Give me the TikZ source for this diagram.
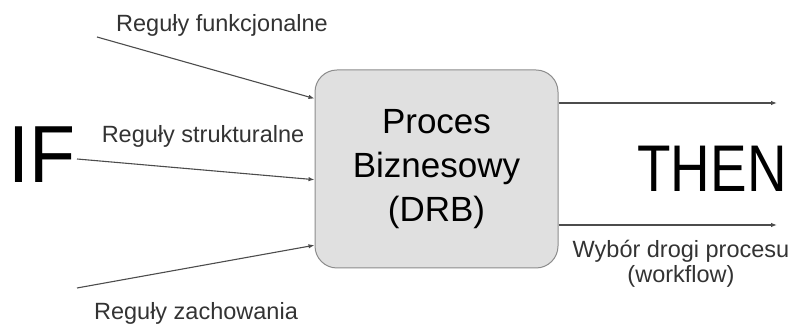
\documentclass[tikz,border=0pt]{standalone}
\usepackage{fontspec}
\setmainfont{Liberation Sans}
\usetikzlibrary{arrows.meta}
\begin{document}
\begin{tikzpicture}[x=1pt,y=1pt,
    arr/.style={-{Latex[length=6pt,width=4.5pt]},line width=1.1pt,draw=black!70},
    lbl/.style={anchor=base,text=black!80,font=\fontsize{23.5}{26}\selectfont},
    big/.style={anchor=base,text=black}]
    \useasboundingbox (0,0) rectangle (793,326);
    % Processus (boite grise arrondie)
    \node[draw=black!45,line width=1pt,fill=black!12,rounded corners=22pt,
          minimum width=243pt,minimum height=198pt,align=center,
          font=\fontsize{35}{44}\selectfont] (box) at (436.5,157)
          {Proces\\Biznesowy\\(DRB)};
    % IF / THEN
    \node[big,font=\fontsize{81}{90}\selectfont] (if) at (42,143) {\scalebox{0.93}[1]{IF}};
    \node[big,font=\fontsize{66}{72}\selectfont] (then) at (712,134) {\scalebox{0.83}[1]{THEN}};
    % Regles en entree
    \coordinate (i1) at (97,289);
    \coordinate (i2) at (77,167);
    \coordinate (i3) at (77,38);
    \draw[arr] (i1) -- (box.150);
    \draw[arr] (i2) -- (box.185);
    \draw[arr] (i3) -- (box.212);
    \node[lbl] (rf) at (222,294) {Reguły funkcjonalne};
    \node[lbl] (rs) at (203,183) {Reguły strukturalne};
    \node[lbl] (rz) at (196,6) {Reguły zachowania};
    % Sorties
    \coordinate (o1) at (777,223);
    \coordinate (o2) at (777,101);
    \draw[arr] (box.east |- o1) -- (o1);
    \draw[arr] (box.east |- o2) -- (o2);
    \node[lbl,anchor=center,align=center,font=\fontsize{23.5}{25}\selectfont] (wd) at (681,62)
          {Wybór drogi procesu\\(workflow)};
\end{tikzpicture}
\end{document}
